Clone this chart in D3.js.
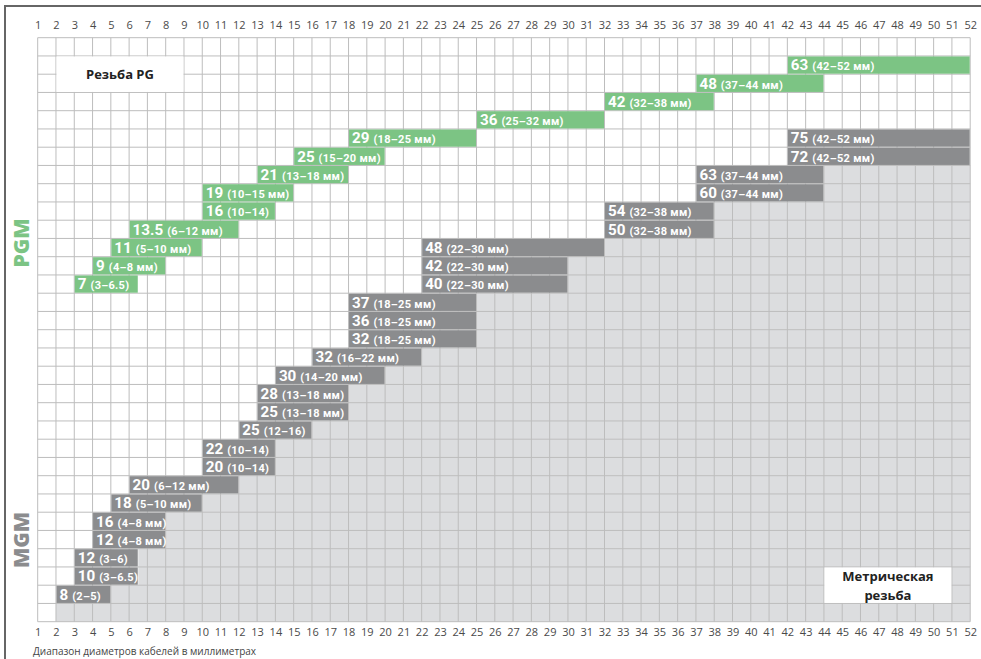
<!DOCTYPE html>
<html>
<head>
<meta charset="utf-8">
<script src="https://cdn.jsdelivr.net/npm/d3@7"></script>
<style>
  html, body { margin: 0; padding: 0; background: #fff; }
  svg { display: block; font-family: "Open Sans", "Noto Sans", sans-serif; }
</style>
</head>
<body>
<svg id="chart" width="981" height="659"></svg>
<script>
// Cable diameter columns (mm) and grid rows
const diameters = d3.range(1, 53);
const rowCount = 32;

// PG thread glands (green): size, clamping range, row
const pgmSize = ["63", "48", "42", "36", "29", "25", "21", "19", "16", "13.5", "11", "9", "7"];
const pgmFrom = [42, 37, 32, 25, 18, 15, 13, 10, 10, 6, 5, 4, 3];
const pgmTo   = [52, 44, 38, 32, 25, 20, 18, 15, 14, 12, 10, 8, 6.5];
const pgmUnit = [true, true, true, true, true, true, true, true, false, true, true, true, false];
const pgmRow  = [1, 2, 3, 4, 5, 6, 7, 8, 9, 10, 11, 12, 13];

// Metric thread glands (grey): size, clamping range, row
const mgmSize = ["75", "72", "63", "60", "54", "50", "48", "42", "40", "37", "36", "32", "32",
                 "30", "28", "25", "25", "22", "20", "20", "18", "16", "12", "12", "10", "8"];
const mgmFrom = [42, 42, 37, 37, 32, 32, 22, 22, 22, 18, 18, 18, 16, 14, 13, 13, 12, 10, 10, 6, 5, 4, 4, 3, 3, 2];
const mgmTo   = [52, 52, 44, 44, 38, 38, 30, 30, 30, 25, 25, 25, 22, 20, 18, 18, 16, 14, 14, 12, 10, 8, 8, 6, 6.5, 5];
const mgmUnit = [true, true, true, true, true, true, true, true, true, true, true, true, true,
                 true, true, true, false, false, false, true, true, true, true, false, false, false];
const mgmRow  = d3.range(5, 31);

// Left edge of the shaded metric area, rows 7..31
const metricRows = d3.range(7, 32);
const metricEdge = [44, 44, 38, 38, 32, 30, 30, 25, 25, 25, 22, 20, 18, 18, 16, 14, 14, 12, 10, 8, 8, 6.5, 6.5, 5, 2];

const GREEN = "#7cc484";
const DARK = "#8b8c8e";
const SHADE = "#dcdddf";
const LINE = "#bdbdbd";

const svg = d3.select("#chart");
const W = 981, H = 659;
const x0 = 37.7, x1 = 970.2, y0 = 37.7, y1 = 621.7;

const x = d3.scaleLinear().domain([1, 52]).range([x0, x1]);
const y = d3.scaleLinear().domain([0, rowCount]).range([y0, y1]);
const rowH = y(1) - y(0);

// frame lines (top and left)
svg.append("path").attr("d", `M5,${H}V6H${W}`)
  .attr("fill", "none").attr("stroke", "#666").attr("stroke-width", 2);

// shaded metric area
const shade = metricRows.map((r, i) => ({ row: r, from: metricEdge[i] }));
svg.append("g").selectAll("rect").data(shade).join("rect")
  .attr("x", d => x(d.from)).attr("y", d => y(d.row))
  .attr("width", d => x(52) - x(d.from)).attr("height", rowH)
  .attr("fill", SHADE);

// grid
const grid = svg.append("g").attr("stroke", LINE).attr("stroke-width", 1);
grid.selectAll("line.v").data(diameters).join("line").attr("class", "v")
  .attr("x1", d => x(d)).attr("x2", d => x(d)).attr("y1", y0).attr("y2", y1);
grid.selectAll("line.h").data(d3.range(0, rowCount + 1)).join("line").attr("class", "h")
  .attr("x1", x0).attr("x2", x1).attr("y1", d => y(d)).attr("y2", d => y(d));

// bars
function drawBars(sizes, from, to, unit, rows, fill, edgeOf) {
  const data = sizes.map((s, i) => ({
    size: s, from: from[i], to: to[i], unit: unit[i], row: rows[i],
    end: Math.max(to[i], edgeOf(rows[i], to[i]))
  }));
  const g = svg.append("g");
  g.selectAll("rect").data(data).join("rect")
    .attr("x", d => x(d.from) + 0.5).attr("y", d => y(d.row) + 0.5)
    .attr("width", d => x(d.end) - x(d.from) - 1).attr("height", rowH - 1)
    .attr("fill", fill);
  const t = g.selectAll("text").data(data).join("text")
    .attr("x", d => x(d.from) + 3.5).attr("y", d => y(d.row) + rowH / 2 + 5.4)
    .attr("fill", "#fff").attr("font-weight", "bold")
    .attr("font-family", "Roboto, 'Open Sans', sans-serif");
  t.append("tspan").attr("font-size", 15.2).text(d => d.size);
  t.append("tspan").attr("font-size", 11).attr("dx", 4).attr("letter-spacing", 0.3)
    .text(d => `(${d.from}–${d.to}${d.unit ? " мм" : ""})`);
}
drawBars(pgmSize, pgmFrom, pgmTo, pgmUnit, pgmRow, GREEN, (r, t) => t);
drawBars(mgmSize, mgmFrom, mgmTo, mgmUnit, mgmRow, DARK, (r, t) => {
  const i = metricRows.indexOf(r);
  return i < 0 ? t : metricEdge[i];
});

// legend boxes
svg.append("rect").attr("x", x(2) + 0.5).attr("y", y(1) + 0.5)
  .attr("width", x(9) - x(2) - 1).attr("height", y(3) - y(1) - 1).attr("fill", "#fff");
svg.append("text").attr("x", (x(2) + x(9)) / 2).attr("y", (y(1) + y(3)) / 2 + 4.6)
  .attr("text-anchor", "middle").attr("font-size", 13).attr("font-weight", "bold")
  .attr("fill", "#222").text("Резьба PG");

svg.append("rect").attr("x", x(44) + 0.5).attr("y", y(29) + 0.5)
  .attr("width", x(51) - x(44) - 1).attr("height", y(31) - y(29) - 1).attr("fill", "#fff");
const mt = svg.append("text").attr("text-anchor", "middle").attr("font-size", 13)
  .attr("font-weight", "bold").attr("fill", "#222");
mt.append("tspan").attr("x", (x(44) + x(51)) / 2).attr("y", y(29) + 14.5).text("Метрическая");
mt.append("tspan").attr("x", (x(44) + x(51)) / 2).attr("y", y(30) + 14.5).text("резьба");

// axes: diameter labels at top and bottom
const axTop = d3.axisTop(x).tickValues(diameters).tickSize(0).tickPadding(9).tickFormat(d3.format("d"));
const axBot = d3.axisBottom(x).tickValues(diameters).tickSize(0).tickPadding(7).tickFormat(d3.format("d"));
[svg.append("g").attr("transform", `translate(0,${y0})`).call(axTop),
 svg.append("g").attr("transform", `translate(0,${y1})`).call(axBot)].forEach(g => {
  g.select(".domain").remove();
  g.selectAll("text").attr("font-size", 11).attr("fill", "#4a4a4a")
    .attr("font-family", "'Open Sans', 'Noto Sans', sans-serif");
});

// side titles
svg.append("text").attr("transform", `translate(29,${243}) rotate(-90)`)
  .attr("text-anchor", "middle").attr("font-size", 21).attr("font-weight", 800)
  .attr("fill", GREEN).text("PGM");
svg.append("text").attr("transform", `translate(29,${540}) rotate(-90)`)
  .attr("text-anchor", "middle").attr("font-size", 21).attr("font-weight", 800)
  .attr("fill", DARK).text("MGM");

// caption
svg.append("text").attr("x", 33).attr("y", 655).attr("font-size", 10)
  .attr("fill", "#444").text("Диапазон диаметров кабелей в миллиметрах");
</script>
</body>
</html>
